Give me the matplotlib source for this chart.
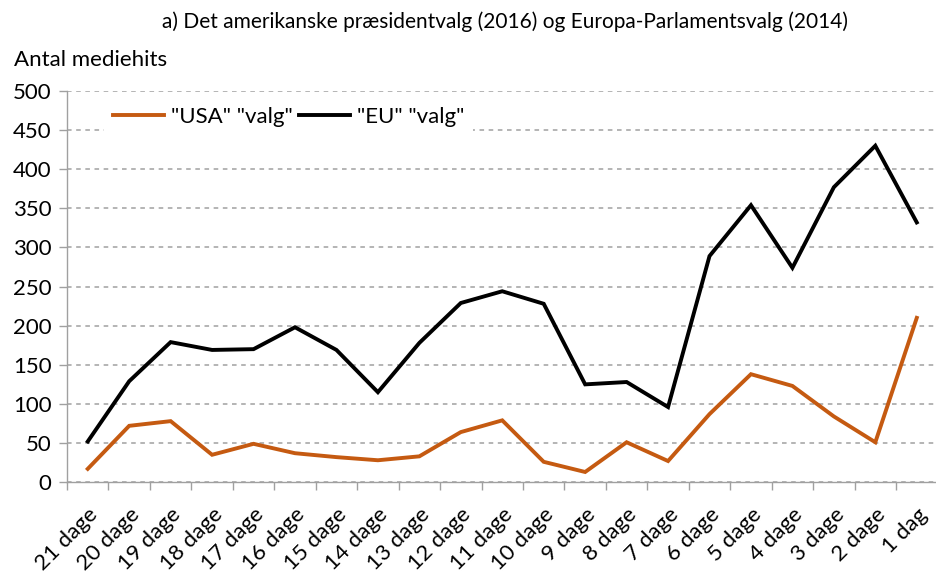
import numpy as np
from matplotlib import pyplot as plt

plt.rcParams['font.family'] = ['Lato', 'DejaVu Sans']

days = ["21 dage", "20 dage", "19 dage", "18 dage", "17 dage", "16 dage", "15 dage",
        "14 dage", "13 dage", "12 dage", "11 dage", "10 dage", "9 dage", "8 dage",
        "7 dage", "6 dage", "5 dage", "4 dage", "3 dage", "2 dage", "1 dag"]
usa = [17, 72, 78, 35, 49, 37, 32, 28, 33, 64, 79, 26, 13, 51, 27, 87, 138, 123, 84, 51, 210]
eu = [52, 129, 179, 169, 170, 198, 169, 115, 178, 229, 244, 228, 125, 128, 96, 289, 354, 274, 377, 430, 332]

fig = plt.figure(figsize=(9.36, 5.74), dpi=100)
ax = fig.add_axes([0.0716, 0.160, 0.93, 0.6815])

x = np.arange(len(days))
ax.plot(x, usa, color='#C55A11', lw=2.8, label='"USA" "valg"', solid_joinstyle='miter')
ax.plot(x, eu, color='black', lw=2.8, label='"EU" "valg"', solid_joinstyle='miter')

ax.set_xlim(-0.5, len(days) - 0.5)
ax.set_ylim(0, 500)
ax.set_yticks(range(0, 501, 50))
ax.yaxis.grid(True, ls=(0, (3, 3)), color='#a0a0a0', lw=1.1)
ax.set_axisbelow(True)

ax.set_xticks(x)
ax.set_xticklabels(days, rotation=45, ha='right', rotation_mode='anchor', fontsize=16)
ax.set_xticks(np.arange(-0.5, len(days), 1), minor=True)
ax.tick_params(axis='x', which='major', length=0, pad=16)
ax.tick_params(axis='x', which='minor', length=6, color='#a0a0a0', width=1)
ax.tick_params(axis='y', length=6, color='#a0a0a0', width=1, labelsize=16, pad=5)

for s in ['top', 'right']:
    ax.spines[s].set_visible(False)
for s in ['left', 'bottom']:
    ax.spines[s].set_color('#a0a0a0')
    ax.spines[s].set_linewidth(1)

leg = ax.legend(loc='upper left', bbox_to_anchor=(0.03, 1.01), ncol=2, fontsize=16,
                frameon=True, facecolor='white', edgecolor='none', framealpha=1,
                handlelength=2.3, columnspacing=0.3, handletextpad=0.3, borderpad=0.4)

fig.text(0.015, 0.885, "Antal mediehits", fontsize=16)
fig.text(0.540, 0.952, "a) Det amerikanske præsidentvalg (2016) og Europa-Parlamentsvalg (2014)",
         fontsize=15, ha='center')

fig.savefig('out.png', dpi=100)
